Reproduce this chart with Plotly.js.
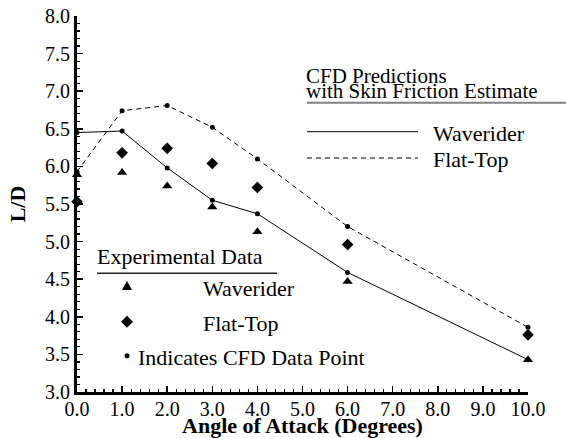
<!DOCTYPE html>
<html>
<head>
<meta charset="utf-8">
<script src="https://cdn.plot.ly/plotly-3.0.1.min.js"></script>
<style>html,body{margin:0;padding:0;background:#fff;}#chart{width:566px;height:438px;}</style>
</head>
<body>
<div id="chart"></div>
<script>
// ---- data ----
const angle = [0, 1, 2, 3, 4, 6, 10];
const cfdWaverider = [6.45, 6.47, 5.98, 5.55, 5.37, 4.59, 3.43];
const cfdFlatTop   = [5.93, 6.74, 6.81, 6.52, 6.10, 5.20, 3.86];
const expWaverider = [5.89, 5.92, 5.74, 5.46, 5.13, 4.47, 3.43];
const expFlatTop   = [5.53, 6.18, 6.24, 6.04, 5.72, 4.96, 3.76];

const xTitle = "Angle of Attack (Degrees)";
const yTitle = "L/D";
const cfdLegendTitle = ["CFD Predictions", "with Skin Friction Estimate"];
const expLegendTitle = "Experimental Data";
const seriesNames = ["Waverider", "Flat-Top"];
const cfdPointNote = "Indicates CFD Data Point";

// ---- layout helpers (pixel -> paper) ----
const L = 77, R = 528, T = 16, B = 392;
const W = 566, H = 438;
const px = p => (p - L) / (R - L);
const py = p => (B - p) / (B - T);
const FONT = "Liberation Serif";

const traces = [
  {x: angle, y: cfdWaverider, type: 'scatter', mode: 'lines+markers', name: 'CFD Waverider',
   line: {color: '#000', width: 1}, marker: {color: '#000', size: 5}, cliponaxis: false},
  {x: angle, y: cfdFlatTop, type: 'scatter', mode: 'lines+markers', name: 'CFD Flat-Top',
   line: {color: '#000', width: 1, dash: '5px,4px'}, marker: {color: '#000', size: 5}, cliponaxis: false},
  {x: angle, y: expWaverider, type: 'scatter', mode: 'markers', name: 'Exp Waverider',
   marker: {color: '#000', size: 9, symbol: 'triangle-up'}, cliponaxis: false},
  {x: angle, y: expFlatTop, type: 'scatter', mode: 'markers', name: 'Exp Flat-Top',
   marker: {color: '#000', size: 9, symbol: 'diamond'}, cliponaxis: false}
];

function textAnn(txt, xp, yp, size) {
  return {text: txt, xref: 'paper', yref: 'paper', x: px(xp), y: py(yp),
          xanchor: 'left', yanchor: 'middle', showarrow: false,
          font: {family: FONT, size: size || 22, color: '#000'}};
}

const annotations = [
  textAnn(cfdLegendTitle[0], 304, 76, 21),
  textAnn(cfdLegendTitle[1], 304, 91, 21),
  textAnn(seriesNames[0], 431, 133),
  textAnn(seriesNames[1], 431, 159),
  textAnn(expLegendTitle, 95, 256),
  textAnn(seriesNames[0], 201, 288),
  textAnn(seriesNames[1], 201, 323),
  textAnn(cfdPointNote, 136, 357)
];

function hline(x0, x1, y, color, width, dash) {
  return {type: 'line', xref: 'paper', yref: 'paper', x0: px(x0), x1: px(x1), y0: py(y), y1: py(y),
          line: {color: color, width: width, dash: dash || 'solid'}};
}
function marker(path, xp, yp) {
  return {type: 'path', xref: 'paper', yref: 'paper', xsizemode: 'pixel', ysizemode: 'pixel',
          xanchor: px(xp), yanchor: py(yp), path: path,
          fillcolor: '#000', line: {color: '#000', width: 0}};
}

const shapes = [
  hline(307, 566, 102.7, '#808080', 2),
  hline(307, 418, 131.7, '#000', 1),
  hline(307, 418, 158, '#000', 1, '5px,4px'),
  hline(97, 277, 273.3, '#222', 1.5),
  marker('M-5,-4 L5,-4 L0,5 Z', 127, 286),
  marker('M-6,0 L0,6 L6,0 L0,-6 Z', 127, 321.7),
  {type: 'circle', xref: 'paper', yref: 'paper', xsizemode: 'pixel', ysizemode: 'pixel',
   xanchor: px(127), yanchor: py(355.7), x0: -2.5, x1: 2.5, y0: -2.5, y1: 2.5,
   fillcolor: '#000', line: {color: '#000', width: 0}}
];

const axisCommon = {
  showline: true, linecolor: '#000', linewidth: 3, mirror: false,
  showgrid: false, zeroline: false, ticks: 'inside', tickcolor: '#000',
  tickwidth: 1.5, ticklen: 6, tickformat: '.1f',
  tickfont: {family: FONT, size: 20, color: '#000'}
};

const layout = {
  width: W, height: H,
  margin: {l: L, r: W - R, t: T, b: H - B, pad: 0},
  paper_bgcolor: '#fff', plot_bgcolor: '#fff',
  showlegend: false,
  xaxis: Object.assign({}, axisCommon, {
    range: [0, 10], dtick: 1, tick0: 0, ticklabelstandoff: -3,
    minor: {dtick: 0.2, ticks: 'inside', ticklen: 3, tickwidth: 1.2, tickcolor: '#000'},
    title: {text: xTitle, standoff: 0, font: {family: FONT, size: 22, color: '#000', weight: 'bold'}}
  }),
  yaxis: Object.assign({}, axisCommon, {
    range: [3, 8], dtick: 0.5, tick0: 3,
    minor: {dtick: 0.1, ticks: 'inside', ticklen: 3, tickwidth: 1.2, tickcolor: '#000'},
    title: {text: yTitle, standoff: 14, font: {family: FONT, size: 22, color: '#000', weight: 'bold'}}
  }),
  annotations: annotations,
  shapes: shapes
};

Plotly.newPlot('chart', traces, layout, {displayModeBar: false, staticPlot: true});
</script>
</body>
</html>
